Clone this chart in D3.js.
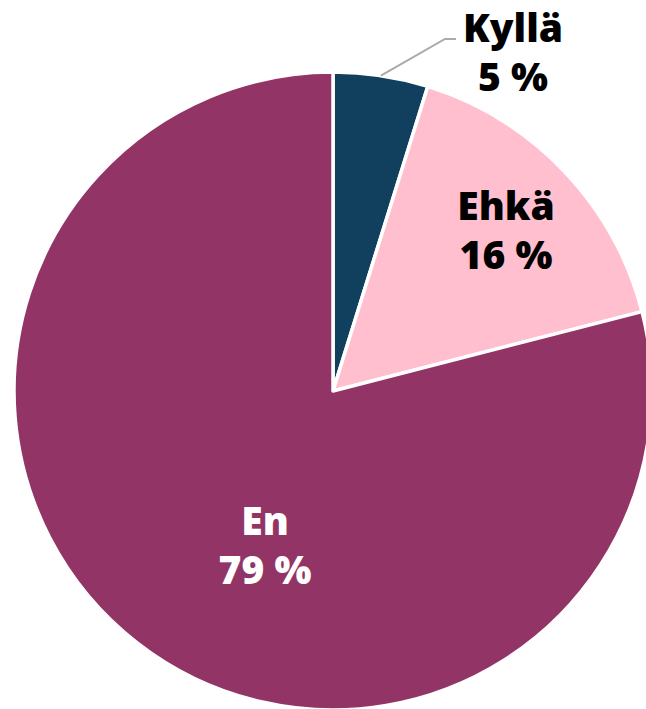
<!DOCTYPE html>
<html>
<head>
<meta charset="utf-8">
<script src="https://cdn.jsdelivr.net/npm/d3@7"></script>
<style>
  html, body { margin: 0; padding: 0; background: #fff; }
  #chart { width: 646px; height: 709px; overflow: hidden; }
  text { font-family: "Open Sans", "Liberation Sans", sans-serif; font-weight: 800; }
</style>
</head>
<body>
<div id="chart"></div>
<script>
const categories = ["Kyllä", "Ehkä", "En"];
const shares = [4.8, 16.2, 79.0];
const colors = ["#11405f", "#ffbfcf", "#933466"];
const labelColors = ["#000", "#000", "#fff"];

const WIDTH = 646, HEIGHT = 709;
const cx = 333, cy = 391, radius = 319;

// label anchors relative to centre (hand placed like the original)
const labelOffset = [[180, -349], [173, -171], [-68, 144]];

const svg = d3.select("#chart").append("svg")
  .attr("width", WIDTH)
  .attr("height", HEIGHT);

const g = svg.append("g").attr("transform", "translate(" + cx + "," + cy + ")");

const pie = d3.pie().sort(null).value(d => d);
const arcs = pie(shares);
const arc = d3.arc().innerRadius(0).outerRadius(radius);

g.selectAll("path.slice")
  .data(arcs)
  .enter()
  .append("path")
  .attr("class", "slice")
  .attr("d", arc)
  .attr("fill", (d, i) => colors[i])
  .attr("stroke", "#fff")
  .attr("stroke-width", 3.5)
  .attr("stroke-linejoin", "round");

// leader line for the small slice
const a0 = arcs[0];
const mid = (a0.startAngle + a0.endAngle) / 2;
const px = Math.sin(mid) * radius, py = -Math.cos(mid) * radius;
g.append("polyline")
  .attr("points", [[px, py], [112, -352], [123, -352]].map(p => p.join(",")).join(" "))
  .attr("fill", "none")
  .attr("stroke", "#aaaaaa")
  .attr("stroke-width", 2);

const labels = g.selectAll("text.lbl")
  .data(arcs)
  .enter()
  .append("text")
  .attr("class", "lbl")
  .attr("text-anchor", "middle")
  .attr("font-size", 39)
  .attr("fill", (d, i) => labelColors[i])
  .attr("transform", (d, i) => "translate(" + labelOffset[i][0] + "," + labelOffset[i][1] + ")");

labels.append("tspan")
  .attr("x", 0)
  .attr("y", 0)
  .text((d, i) => categories[i]);

labels.append("tspan")
  .attr("x", 0)
  .attr("y", 49)
  .text(d => Math.round(d.data) + " %");
</script>
</body>
</html>
